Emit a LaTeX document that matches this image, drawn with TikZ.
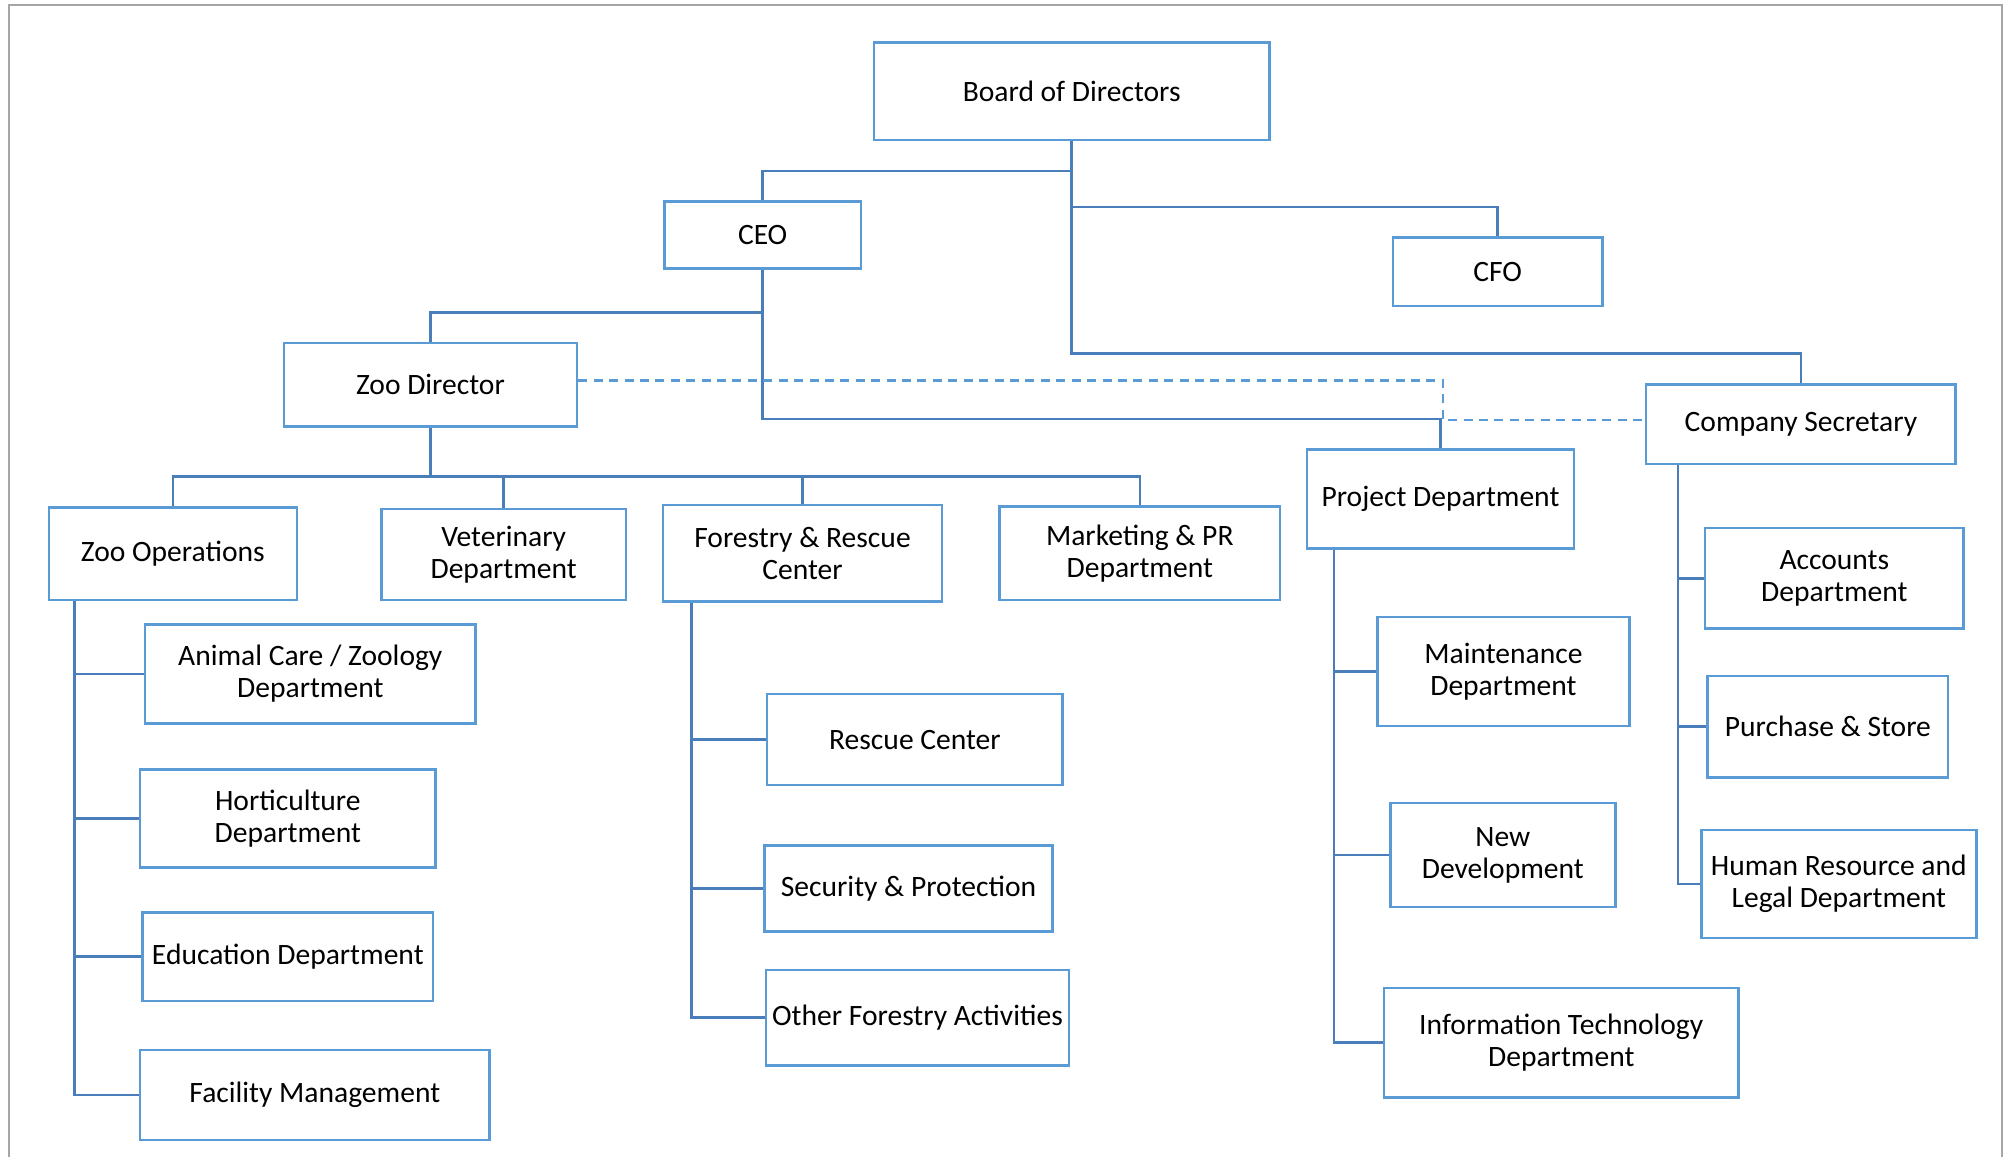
\documentclass[tikz,border=0pt]{standalone}
\usepackage{fontspec}
\setmainfont{Carlito}
\definecolor{boxblue}{HTML}{5B9BD5}
\definecolor{lineblue}{HTML}{4A7EBB}
\definecolor{framegray}{HTML}{A6A6A6}
\begin{document}
\begin{tikzpicture}[x=1pt,y=-1pt,
  box/.style={draw=boxblue, line width=2pt, fill=white, inner sep=0pt, align=center,
    font=\fontsize{23}{25}\selectfont},
  conn/.style={draw=lineblue, line width=2pt},
  dashconn/.style={draw=boxblue, line width=2pt, dash pattern=on 7pt off 5pt}]
\useasboundingbox (0,0) rectangle (1565,900);
\draw[framegray, line width=1.3pt] (7,900) -- (7,4) -- (1558,4) -- (1558,900);

% nodes
\node[box, minimum width=308, minimum height=76] (board) at (834,71) {Board of Directors};
\node[box, minimum width=153, minimum height=52] (ceo) at (593.5,183) {CEO};
\node[box, minimum width=163, minimum height=53] (cfo) at (1165.5,211.5) {CFO};
\node[box, minimum width=228, minimum height=65] (zd) at (335,299.5) {Zoo Director};
\node[box, minimum width=241, minimum height=62] (cs) at (1401.5,330) {Company Secretary};
\node[box, minimum width=208, minimum height=77] (pd) at (1121,388.5) {Project Department};
\node[box, minimum width=193, minimum height=72] (zo) at (134.5,431) {Zoo Operations};
\node[box, minimum width=190, minimum height=71] (vet) at (392,431.5) {Veterinary\\Department};
\node[box, minimum width=217, minimum height=75] (frc) at (624.5,430.5) {Forestry \& Rescue\\Center};
\node[box, minimum width=218, minimum height=73] (mpr) at (887,430.5) {Marketing \& PR\\Department};
\node[box, minimum width=257, minimum height=77] (ac) at (241.5,524.5) {Animal Care / Zoology\\Department};
\node[box, minimum width=230, minimum height=76] (hort) at (224,637) {Horticulture\\Department};
\node[box, minimum width=226, minimum height=69] (edu) at (224,744.5) {Education Department};
\node[box, minimum width=272, minimum height=70] (fac) at (245,852) {Facility Management};
\node[box, minimum width=230, minimum height=71] (rc) at (712,575.5) {Rescue Center};
\node[box, minimum width=224, minimum height=67] (sec) at (707,691.5) {Security \& Protection};
\node[box, minimum width=236, minimum height=74] (ofa) at (714,792) {Other Forestry Activities};
\node[box, minimum width=196, minimum height=85] (mnt) at (1170,522.5) {Maintenance\\Department};
\node[box, minimum width=175, minimum height=81] (nd) at (1169.5,665.5) {New\\Development};
\node[box, minimum width=276, minimum height=85] (it) at (1215,811.5) {Information Technology\\Department};
\node[box, minimum width=201, minimum height=78] (acc) at (1427.5,450) {Accounts\\Department};
\node[box, minimum width=187, minimum height=79] (ps) at (1422.5,565.5) {Purchase \& Store};
\node[box, minimum width=214, minimum height=84] (hr) at (1431,688) {Human Resource and\\Legal Department};

% helper coordinates
\coordinate (yceo) at (0,133);
\coordinate (ycfo) at (0,161);
\coordinate (ycs) at (0,275);
\coordinate (yzd) at (0,243);
\coordinate (ypd) at (0,326);
\coordinate (ybus) at (0,371);
\coordinate (xzo) at (58,0);
\coordinate (xfrc) at (538,0);
\coordinate (xpd) at (1038,0);
\coordinate (xcs) at (1306,0);
\coordinate (ydash1) at (0,296);
\coordinate (ydash2) at (0,327);
\coordinate (xdash) at (1123,0);

% connectors
\draw[conn] (board.south) -- (board.south |- ycs) -| (cs.north);
\draw[conn] (board.south |- yceo) -| (ceo.north);
\draw[conn] (board.south |- ycfo) -| (cfo.north);
\draw[conn] (ceo.south) -- (ceo.south |- ypd) -| (pd.north);
\draw[conn] (ceo.south |- yzd) -| (zd.north);
\draw[conn] (zd.south) -- (zd.south |- ybus);
\draw[conn] (zo.north) -- (zo.north |- ybus) -| (mpr.north);
\draw[conn] (vet.north) -- (vet.north |- ybus);
\draw[conn] (frc.north) -- (frc.north |- ybus);

\draw[conn] (xzo |- zo.south) |- (fac.west);
\draw[conn] (ac.west) -- (ac.west -| xzo);
\draw[conn] (hort.west) -- (hort.west -| xzo);
\draw[conn] (edu.west) -- (edu.west -| xzo);

\draw[conn] (xfrc |- frc.south) |- (ofa.west);
\draw[conn] (rc.west) -- (rc.west -| xfrc);
\draw[conn] (sec.west) -- (sec.west -| xfrc);

\draw[conn] (xpd |- pd.south) |- (it.west);
\draw[conn] (mnt.west) -- (mnt.west -| xpd);
\draw[conn] (nd.west) -- (nd.west -| xpd);

\draw[conn] (xcs |- cs.south) |- (hr.west);
\draw[conn] (acc.west) -- (acc.west -| xcs);
\draw[conn] (ps.west) -- (ps.west -| xcs);

\draw[dashconn] (zd.east |- ydash1) -- (xdash |- ydash1) -- (xdash |- ydash2) -- (cs.west |- ydash2);
\end{tikzpicture}
\end{document}
